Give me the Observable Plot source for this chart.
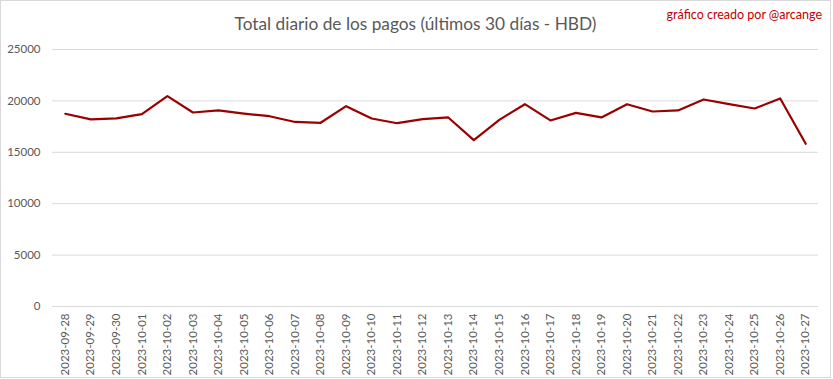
<!DOCTYPE html>
<html>
<head>
<meta charset="utf-8">
<script src="https://cdn.jsdelivr.net/npm/d3@7"></script>
<script src="https://cdn.jsdelivr.net/npm/@observablehq/plot@0.6"></script>
<style>
  html, body { margin: 0; padding: 0; background: #fff; }
  #chart { position: relative; width: 831px; height: 378px; box-sizing: border-box; border: 1px solid #d9d9d9; background: #fff; font-family: Lato, "Open Sans", sans-serif; }
  #header { position: relative; height: 40px; }
  #title { position: absolute; left: 0; right: 0; top: 12px; text-align: center; font-size: 17.3px; color: #595959; }
  #credit { position: absolute; right: 8px; top: 6px; font-size: 12.5px; color: #c00000; }
  svg { display: block; }
</style>
</head>
<body>
<div id="chart">
  <div id="header">
    <div id="title">Total diario de los pagos (últimos 30 días - HBD)</div>
    <div id="credit">gráfico creado por @arcange</div>
  </div>
  <div id="plot"></div>
</div>
<script>
const dates = [
  "2023-09-28","2023-09-29","2023-09-30","2023-10-01","2023-10-02","2023-10-03",
  "2023-10-04","2023-10-05","2023-10-06","2023-10-07","2023-10-08","2023-10-09",
  "2023-10-10","2023-10-11","2023-10-12","2023-10-13","2023-10-14","2023-10-15",
  "2023-10-16","2023-10-17","2023-10-18","2023-10-19","2023-10-20","2023-10-21",
  "2023-10-22","2023-10-23","2023-10-24","2023-10-25","2023-10-26","2023-10-27"
];
const values = [
  18750, 18200, 18300, 18710, 20460, 18870,
  19070, 18770, 18510, 17950, 17870, 19490,
  18290, 17830, 18220, 18390, 16180, 18160,
  19680, 18100, 18830, 18390, 19680, 18970,
  19070, 20140, 19680, 19260, 20240, 15830
];
const yTicks = [0, 5000, 10000, 15000, 20000, 25000];

const data = dates.map((d, i) => ({date: d, value: values[i]}));

const chart = Plot.plot({
  width: 829,
  height: 336,
  marginLeft: 51,
  marginRight: 12,
  marginTop: 8,
  marginBottom: 71,
  style: {fontFamily: "Lato, 'Open Sans', sans-serif", fontSize: "11.5px", color: "#595959", background: "#fff"},
  x: {type: "point", domain: dates, padding: 0.5, round: false},
  y: {domain: [0, 25000]},
  marks: [
    Plot.ruleY(yTicks, {stroke: "#d9d9d9", strokeWidth: 1}),
    Plot.axisY({ticks: yTicks, tickSize: 0, tickPadding: 12, tickFormat: d => String(d), label: null, fill: "#595959"}),
    Plot.axisX({tickSize: 0, tickPadding: 7, tickRotate: -90, label: null, fill: "#595959"}),
    Plot.line(data, {x: "date", y: "value", stroke: "#990000", strokeWidth: 2.2, curve: "linear"})
  ]
});
document.getElementById("plot").appendChild(chart);
</script>
</body>
</html>
